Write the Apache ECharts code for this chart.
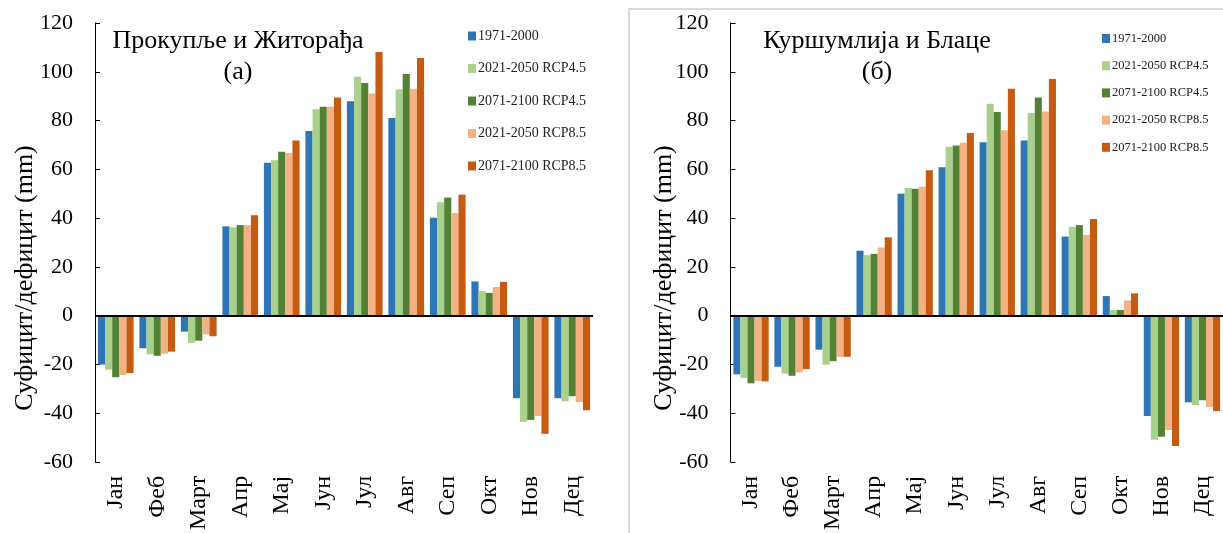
<!DOCTYPE html>
<html>
<head>
<meta charset="utf-8">
<script src="https://cdn.jsdelivr.net/npm/echarts@6/dist/echarts.min.js"></script>
<style>
html,body{margin:0;padding:0;background:#fff;}
#chart{width:1223px;height:533px;}
</style>
</head>
<body>
<div id="chart"></div>
<script>
// Categories (months)
const categories = ['Јан','Феб','Март','Апр','Мај','Јун','Јул','Авг','Сеп','Окт','Нов','Дец'];
const seriesNames = ['1971-2000','2021-2050 RCP4.5','2071-2100 RCP4.5','2021-2050 RCP8.5','2071-2100 RCP8.5'];
const seriesColors = ['#2E75B6','#A9D18E','#548235','#F4B183','#C55A11'];

// (а) Прокупље и Житорађа
const prok_1971_2000   = [-20.1, -13.4, -6.6, 36.6, 62.7, 75.7, 87.9, 81.0, 40.1, 14.0, -33.9, -33.9];
const prok_2021_rcp45  = [-22.2, -15.9, -11.2, 36.2, 63.7, 84.6, 98.0, 92.7, 46.5, 10.0, -43.6, -35.1];
const prok_2071_rcp45  = [-25.3, -16.5, -10.3, 37.1, 67.2, 85.6, 95.4, 99.1, 48.4, 9.3, -42.8, -33.1];
const prok_2021_rcp85  = [-24.4, -15.6, -7.7, 37.1, 66.7, 85.6, 91.1, 93.0, 42.0, 11.7, -41.2, -35.5];
const prok_2071_rcp85  = [-23.6, -14.8, -8.5, 41.1, 71.8, 89.4, 108.1, 105.6, 49.6, 13.8, -48.5, -38.8];

// (б) Куршумлија и Блаце
const kur_1971_2000    = [-24.1, -21.0, -14.0, 26.6, 50.0, 60.8, 71.1, 71.8, 32.4, 8.0, -41.2, -35.6];
const kur_2021_rcp45   = [-25.6, -23.8, -20.2, 24.8, 52.3, 69.2, 86.9, 83.1, 36.4, 2.3, -50.9, -36.7];
const kur_2071_rcp45   = [-27.8, -24.7, -18.7, 25.3, 52.0, 69.8, 83.5, 89.4, 37.1, 2.3, -49.7, -34.7];
const kur_2021_rcp85   = [-26.8, -23.3, -16.9, 27.9, 52.8, 70.9, 76.0, 83.7, 33.1, 6.2, -46.9, -37.5];
const kur_2071_rcp85   = [-27.0, -22.0, -16.9, 32.1, 59.6, 74.9, 93.0, 97.0, 39.6, 9.1, -53.5, -39.2];

const yTicks = {min: -60, max: 120, interval: 20};
const yName = 'Суфицит/дефицит (mm)';
const titles = [['Прокупље и Житорађа', '(а)'], ['Куршумлија и Блаце', '(б)']];

const FONT = '"Liberation Serif", "Times New Roman", serif';

const leftData = [prok_1971_2000, prok_2021_rcp45, prok_2071_rcp45, prok_2021_rcp85, prok_2071_rcp85];
const rightData = [kur_1971_2000, kur_2021_rcp45, kur_2071_rcp45, kur_2021_rcp85, kur_2071_rcp85];

function makeSeries(dataSets, idx) {
  return dataSets.map((d, i) => {
    const s = {
      name: seriesNames[i],
      type: 'bar',
      xAxisIndex: idx,
      yAxisIndex: idx,
      data: d,
      barGap: '0%',
      barCategoryGap: '14%',
      itemStyle: {color: seriesColors[i]},
      animation: false
    };
    if (i === 0) {
      s.markLine = {
        silent: true,
        symbol: ['none','none'],
        label: {show: false},
        lineStyle: {color: '#000', width: 2, type: 'solid'},
        data: [{yAxis: 0}],
        animation: false
      };
    }
    return s;
  });
}

function makeX(idx) {
  return {
    type: 'category',
    gridIndex: idx,
    data: categories,
    position: 'bottom',
    axisLine: {show: false, onZero: false},
    axisTick: {show: false},
    axisLabel: {rotate: 90, margin: 14, fontFamily: FONT, fontSize: 24, color: '#000'}
  };
}

function makeY(idx) {
  return {
    type: 'value',
    gridIndex: idx,
    min: yTicks.min, max: yTicks.max, interval: yTicks.interval,
    axisLine: {show: true, lineStyle: {color: '#000', width: 1}},
    axisTick: {show: true, inside: true, length: 5, lineStyle: {color: '#000'}},
    axisLabel: {margin: 22, fontFamily: FONT, fontSize: 22, color: '#000'},
    splitLine: {show: false}
  };
}

function legendFor(left, top, fontSize, gap) {
  return {
    orient: 'vertical',
    left: left, top: top,
    itemWidth: 8, itemHeight: 9,
    itemGap: gap,
    icon: 'rect',
    data: seriesNames,
    textStyle: {fontFamily: FONT, fontSize: fontSize, color: '#222', padding: [0,0,0,-3]}
  };
}

const chart = echarts.init(document.getElementById('chart'), null, {renderer: 'canvas'});
chart.setOption({
  animation: false,
  grid: [
    {left: 95, top: 23, width: 498, height: 443},
    {left: 730.5, top: 23, width: 498, height: 443}
  ],
  xAxis: [makeX(0), makeX(1)],
  yAxis: [makeY(0), makeY(1)],
  legend: [legendFor(463, 24, 14, 18.5), legendFor(1097, 27, 12.5, 14.2)],
  series: makeSeries(leftData, 0).concat(makeSeries(rightData, 1)),
  graphic: [
    {type: 'rect', shape: {x: 629, y: 9, width: 620, height: 560}, style: {fill: 'none', stroke: '#d9d9d9', lineWidth: 2}, z: -10, silent: true},
    {type: 'text', x: 238, y: 41, style: {text: titles[0][0], textAlign: 'center', textVerticalAlign: 'middle', font: '26px ' + FONT, fill: '#000'}},
    {type: 'text', x: 238, y: 72, style: {text: titles[0][1], textAlign: 'center', textVerticalAlign: 'middle', font: '26px ' + FONT, fill: '#000'}},
    {type: 'text', x: 877, y: 41, style: {text: titles[1][0], textAlign: 'center', textVerticalAlign: 'middle', font: '26px ' + FONT, fill: '#000'}},
    {type: 'text', x: 877, y: 72, style: {text: titles[1][1], textAlign: 'center', textVerticalAlign: 'middle', font: '26px ' + FONT, fill: '#000'}},
    {type: 'text', x: 25, y: 278, rotation: Math.PI / 2, style: {text: yName, textAlign: 'center', textVerticalAlign: 'middle', font: '26px ' + FONT, fill: '#000'}},
    {type: 'text', x: 664, y: 278, rotation: Math.PI / 2, style: {text: yName, textAlign: 'center', textVerticalAlign: 'middle', font: '26px ' + FONT, fill: '#000'}}
  ]
});
</script>
</body>
</html>
